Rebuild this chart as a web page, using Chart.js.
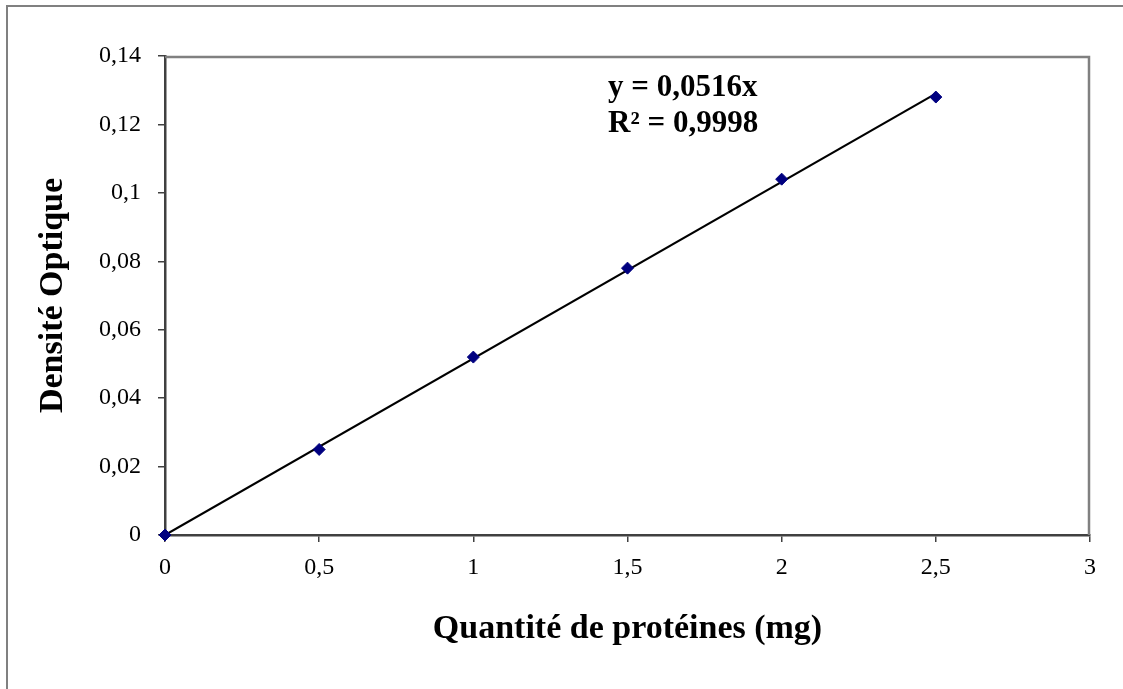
<!DOCTYPE html>
<html>
<head>
<meta charset="utf-8">
<script src="https://cdn.jsdelivr.net/npm/chart.js@4"></script>
<style>
  html, body { margin: 0; padding: 0; background: #fff; }
  #wrap { position: relative; width: 1123px; height: 689px; overflow: hidden; }
  #frame { position: absolute; left: 6px; top: 5px; width: 1300px; height: 900px; border: 2px solid #808080; }
  #c { position: absolute; left: 0; top: 0; }
</style>
</head>
<body>
<div id="wrap">
  <div id="frame"></div>
  <canvas id="c" width="1123" height="689"></canvas>
</div>
<script>
// measured points
const quantities = [0, 0.5, 1, 1.5, 2, 2.5];
const densities = [0, 0.025, 0.052, 0.078, 0.104, 0.128];
// linear trendline y = 0,0516x, end points
const trendX = [0, 2.5];
const trendY = [0, 0.129];
const equationLines = ["y = 0,0516x", "R² = 0,9998"];
const xTitle = "Quantité de protéines (mg)";
const yTitle = "Densité Optique";

const serif = "'Liberation Serif', 'Times New Roman', serif";
const fmt = (v) => String(Math.round(v * 100) / 100).replace(".", ",");

// top and right edges of the plot area + equation text
const extras = {
  id: "extras",
  afterDraw(chart) {
    const { ctx, chartArea: a, scales } = chart;
    ctx.save();
    ctx.strokeStyle = "#808080";
    ctx.lineWidth = 2.5;
    ctx.beginPath();
    ctx.moveTo(a.left, a.top + 1);
    ctx.lineTo(a.right - 1, a.top + 1);
    ctx.lineTo(a.right - 1, a.bottom);
    ctx.stroke();

    ctx.fillStyle = "#000";
    ctx.font = "bold 31px " + serif;
    ctx.textBaseline = "alphabetic";
    const x0 = scales.x.getPixelForValue(1.437);
    const y0 = scales.y.getPixelForValue(0.1284);
    equationLines.forEach((t, i) => ctx.fillText(t, x0, y0 + i * 36));
    ctx.restore();
  },
};

new Chart(document.getElementById("c"), {
  type: "scatter",
  data: {
    datasets: [
      {
        label: "points",
        data: quantities.map((q, i) => ({ x: q, y: densities[i] })),
        pointStyle: "rectRot",
        pointRadius: 6,
        backgroundColor: "#000080",
        borderColor: "#000080",
        borderWidth: 1,
        showLine: false,
        clip: false,
        order: 0,
      },
      {
        label: "trend",
        data: trendX.map((q, i) => ({ x: q, y: trendY[i] })),
        showLine: true,
        borderColor: "#000",
        borderWidth: 2.2,
        pointRadius: 0,
        order: 1,
      },
    ],
  },
  plugins: [extras],
  options: {
    responsive: false,
    animation: false,
    layout: { padding: { left: 0, top: 56, right: 33, bottom: 0 } },
    plugins: { legend: { display: false }, tooltip: { enabled: false } },
    scales: {
      x: {
        type: "linear",
        min: 0,
        max: 3,
        afterFit: (s) => { s.height = 154; },
        ticks: {
          stepSize: 0.5,
          color: "#000",
          padding: 11,
          font: { family: serif, size: 24 },
          callback: (v) => fmt(v),
        },
        grid: { drawOnChartArea: false, tickLength: 7, color: "#404040", lineWidth: 1.5 },
        border: { color: "#404040", width: 2.5 },
        title: {
          display: true,
          text: xTitle,
          color: "#000",
          font: { family: serif, size: 34, weight: "bold" },
          padding: { top: 0, bottom: 39 },
        },
      },
      y: {
        type: "linear",
        min: 0,
        max: 0.14,
        afterFit: (s) => { s.width = 165; },
        ticks: {
          stepSize: 0.02,
          color: "#000",
          padding: 17,
          font: { family: serif, size: 24 },
          callback: (v) => fmt(v),
        },
        grid: { drawOnChartArea: false, tickLength: 7, color: "#404040", lineWidth: 1.5 },
        border: { color: "#404040", width: 2.5 },
        title: {
          display: true,
          text: yTitle,
          color: "#000",
          font: { family: serif, size: 34, weight: "bold" },
          padding: { top: 33, bottom: 0 },
        },
      },
    },
  },
});
</script>
</body>
</html>
